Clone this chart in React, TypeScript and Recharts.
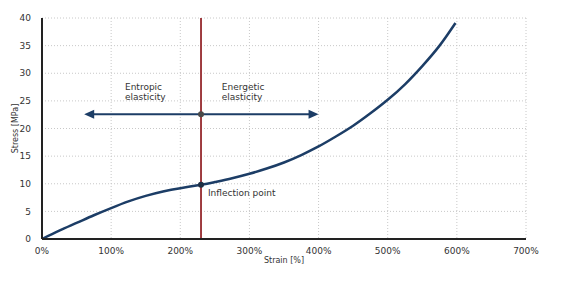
// Stress–strain curve of an elastomer with the inflection point marked
import {
  LineChart,
  Line,
  XAxis,
  YAxis,
  CartesianGrid,
  ReferenceLine,
  ReferenceDot,
} from 'recharts';

const strain = [0, 25, 50, 75, 100, 125, 150, 175, 200, 230, 250, 275, 300, 325, 350, 375, 400, 425, 450, 475, 500, 525, 550, 575, 598];
const stress = [0, 1.5, 2.9, 4.3, 5.6, 6.8, 7.8, 8.6, 9.2, 9.8, 10.3, 11.0, 11.8, 12.75, 13.85, 15.2, 16.75, 18.55, 20.5, 22.75, 25.2, 28.0, 31.3, 35.0, 39.1];

const xTicks = [0, 100, 200, 300, 400, 500, 600, 700];
const yTicks = [0, 5, 10, 15, 20, 25, 30, 35, 40];

const inflectionX = 230;
const inflectionY = 9.8;
const arrowY = 22.6;
const arrowFrom = 61;
const arrowTo = 400;

const notes = [
  { x: 120, y: 27.0, lines: ['Entropic', 'elasticity'] },
  { x: 260, y: 27.0, lines: ['Energetic', 'elasticity'] },
  { x: 240, y: 7.8, lines: ['Inflection point'] },
];

const data = strain.map((s, i) => ({ strain: s, stress: stress[i] }));

const NAVY = '#1c3d66';
const FONT = 'DejaVu Sans, Verdana, sans-serif';

function DoubleArrow(props: any) {
  const { x1, y1, x2, y2 } = props;
  const len = 10;
  const half = 4.5;
  return (
    <g>
      <line x1={x1 + 4} y1={y1} x2={x2 - 4} y2={y2} stroke={NAVY} strokeWidth={2} />
      <polygon points={`${x1},${y1} ${x1 + len},${y1 - half} ${x1 + len},${y1 + half}`} fill={NAVY} />
      <polygon points={`${x2},${y2} ${x2 - len},${y2 - half} ${x2 - len},${y2 + half}`} fill={NAVY} />
    </g>
  );
}

export default function App() {
  return (
    <div style={{ position: 'absolute', left: 0, top: 0, width: 565, height: 285, background: '#fff' }}>
      <LineChart width={565} height={285} data={data} margin={{ top: 18, right: 39, left: 13, bottom: 16 }}>
        <CartesianGrid stroke="#c8c8c8" strokeDasharray="1 2" />
        <XAxis
          dataKey="strain"
          type="number"
          domain={[0, 700]}
          ticks={xTicks}
          tickFormatter={(v) => `${v}%`}
          tickLine={false}
          axisLine={{ stroke: '#222', strokeWidth: 2 }}
          tick={{ fontSize: 9, fill: '#333', fontFamily: FONT }}
          tickMargin={3}
          height={30}
          label={{ value: 'Strain [%]', position: 'insideBottom', offset: 6, style: { fontSize: 8, fill: '#333', fontFamily: FONT } }}
        />
        <YAxis
          type="number"
          domain={[0, 40]}
          ticks={yTicks}
          tickLine={false}
          axisLine={{ stroke: '#222', strokeWidth: 2 }}
          tick={{ fontSize: 9, fill: '#333', fontFamily: FONT }}
          tickMargin={5}
          width={29}
          label={{ value: 'Stress [MPa]', angle: -90, position: 'insideLeft', offset: 2, style: { textAnchor: 'middle', fontSize: 8, fill: '#333', fontFamily: FONT } }}
        />
        <ReferenceLine x={inflectionX} stroke="#9e3a3e" strokeWidth={2} />
        <ReferenceLine
          segment={[{ x: arrowFrom, y: arrowY }, { x: arrowTo, y: arrowY }]}
          shape={DoubleArrow}
        />
        <Line
          type="natural"
          dataKey="stress"
          stroke={NAVY}
          strokeWidth={2.5}
          dot={false}
          isAnimationActive={false}
        />
        <ReferenceDot x={inflectionX} y={arrowY} r={3} fill="#4a4a4a" stroke="none" />
        <ReferenceDot x={inflectionX} y={inflectionY} r={3} fill="#1f2f44" stroke="none" />
        {notes.map((n) => (
          <ReferenceDot
            key={n.lines[0]}
            x={n.x}
            y={n.y}
            r={0}
            shape={(p: any) => (
              <text x={p.cx} y={p.cy} fontSize={9} fill="#333" fontFamily={FONT}>
                {n.lines.map((l, i) => (
                  <tspan key={l} x={p.cx} dy={i === 0 ? 0 : 10}>
                    {l}
                  </tspan>
                ))}
              </text>
            )}
          />
        ))}
      </LineChart>
    </div>
  );
}
